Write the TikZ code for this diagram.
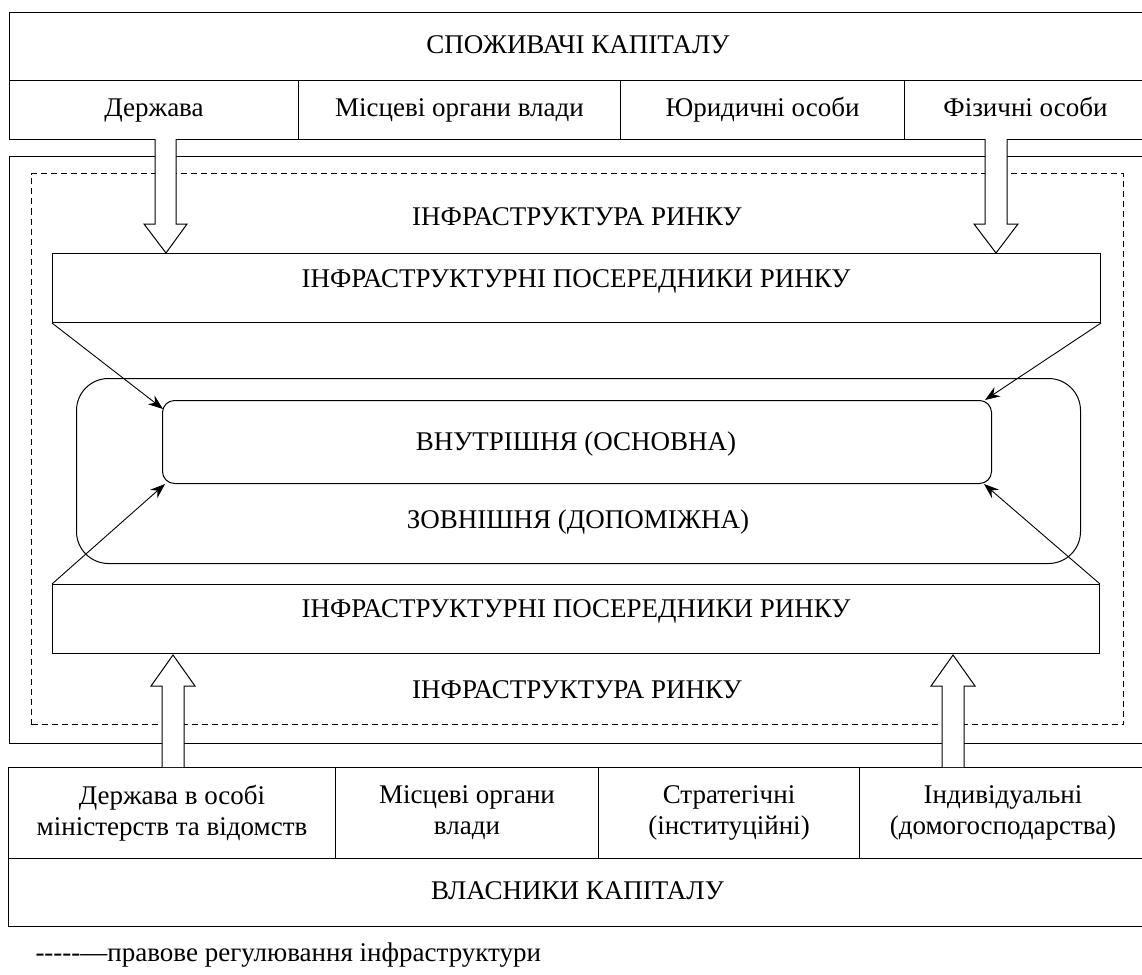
\documentclass[tikz,border=0pt]{standalone}
\usepackage{fontspec}
\setmainfont{Liberation Serif}
\usetikzlibrary{arrows.meta,calc}
\begin{document}
\begin{tikzpicture}[x=1pt,y=-1pt,
  line width=1pt,
  box/.style={draw, inner sep=0pt, anchor=north west, align=center,
    font=\fontsize{27}{31}\selectfont},
  cell/.style={box, text height=19pt, text depth=6pt},
  txt/.style={inner sep=0pt, align=center, font=\fontsize{27}{31}\selectfont},
  regul/.style={draw, dash pattern=on 6pt off 4pt},
  hollow/.style={draw, fill=white, line width=1pt},
  feed/.style={draw, line width=0.9pt, -{Stealth[length=15pt,width=11pt,inset=5pt]}}]

\useasboundingbox (0,0) rectangle (1142,974);

% capital consumers
\node[cell, minimum width=1137, minimum height=68] (cons) at (9,12) {СПОЖИВАЧІ КАПІТАЛУ};
\node[cell, minimum width=289, minimum height=59] (cstate) at (9,80) {Держава};
\node[cell, minimum width=322, minimum height=59] (clocal) at (298,80) {Місцеві органи влади};
\node[cell, minimum width=284, minimum height=59] (clegal) at (620,80) {Юридичні особи};
\node[cell, minimum width=242, minimum height=59] (cpers) at (904,80) {Фізичні особи};

% market frame and legal regulation border
\node[box, minimum width=1141, minimum height=587] (frame) at (9,156) {};
\node[box, regul, minimum width=1092, minimum height=551] (legal) at (31,173) {};

\node[txt] (infraTop) at (577,217) {ІНФРАСТРУКТУРА РИНКУ};
\node[txt] (infraBot) at (577,690) {ІНФРАСТРУКТУРА РИНКУ};

% intermediaries
\node[box, minimum width=1048, minimum height=69] (midT) at (52,253) {};
\node[txt] (midTtxt) at (576,281) {ІНФРАСТРУКТУРНІ ПОСЕРЕДНИКИ РИНКУ};
\node[box, minimum width=1047, minimum height=69] (midB) at (52,584) {};
\node[txt] (midBtxt) at (576,611) {ІНФРАСТРУКТУРНІ ПОСЕРЕДНИКИ РИНКУ};

% outer and inner infrastructure
\node[box, rounded corners=32pt, minimum width=1004, minimum height=185] (outer) at (76,378) {};
\node[txt] (outertxt) at (578,522) {ЗОВНІШНЯ (ДОПОМІЖНА)};
\node[box, rounded corners=12pt, minimum width=829, minimum height=83] (inner) at (162,400) {};
\node[txt] (innertxt) at (576,444) {ВНУТРІШНЯ (ОСНОВНА)};

% capital owners
\node[box, minimum width=327, minimum height=91] (ostate) at (8,767) {Держава в особі\\міністерств та відомств};
\node[box, minimum width=263, minimum height=91] (olocal) at (335,767) {Місцеві органи\\влади};
\node[box, minimum width=261, minimum height=91] (ostrat) at (598,767) {Стратегічні\\(інституційні)};
\node[box, minimum width=287, minimum height=91] (oindiv) at (859,767) {Індивідуальні\\(домогосподарства)};
\node[cell, minimum width=1138, minimum height=68] (owners) at (8,858) {ВЛАСНИКИ КАПІТАЛУ};

% hollow flow arrows
\path[hollow] (155,139) -- (155,224) -- (144,224) -- (166,253) -- (187,224) -- (176,224) -- (176,139);
\path[hollow] (985,139) -- (985,224) -- (974,224) -- (996,253) -- (1018,224) -- (1007,224) -- (1007,139);
\path[hollow] (162,767) -- (162,686) -- (151,686) -- (173,655) -- (195,686) -- (184,686) -- (184,767);
\path[hollow] (942,767) -- (942,686) -- (931,686) -- (953,655) -- (975,686) -- (964,686) -- (964,767);

% intermediaries feed the inner infrastructure
\draw[feed] (midT.south west) -- ($(inner.north west)+(1,9)$);
\draw[feed] (midT.south east) -- ($(inner.north east)+(-7,0)$);
\draw[feed] (midB.north west) -- ($(inner.south west)+(3,0)$);
\draw[feed] (midB.north east) -- ($(inner.south east)+(-8,0)$);

% legend
\node[txt, anchor=west] (legend) at (35,955) {-{}-{}-{}-{}-—правове регулювання інфраструктури};
\end{tikzpicture}
\end{document}
